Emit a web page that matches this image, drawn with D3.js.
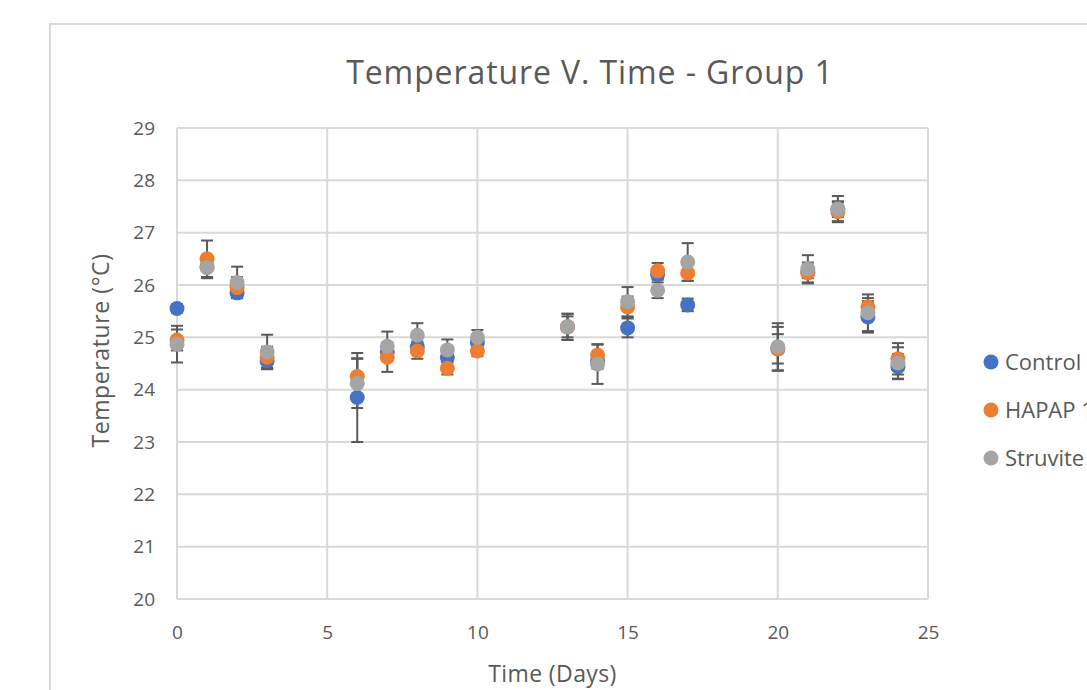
<!DOCTYPE html>
<html>
<head>
<meta charset="utf-8">
<script src="https://cdn.jsdelivr.net/npm/d3@7"></script>
<style>
  html, body { margin: 0; padding: 0; background: #fff; overflow: hidden; }
  svg { display: block; font-family: "Open Sans", "Segoe UI", sans-serif; }
</style>
</head>
<body>
<svg id="chart" width="1087" height="690"></svg>
<script>
const days = [0, 1, 2, 3, 6, 7, 8, 9, 10, 13, 14, 15, 16, 17, 20, 21, 22, 23, 24];
const control = [25.55, 26.35, 25.85, 24.55, 23.85, 24.72, 24.82, 24.62, 24.9, 25.2, 24.55, 25.18, 26.2, 25.62, 24.78, 26.25, 27.45, 25.39, 24.44];
const controlErr = [0.08, 0.2, 0.1, 0.15, 0.85, 0.15, 0.1, 0.1, 0.1, 0.2, 0.15, 0.18, 0.1, 0.12, 0.28, 0.12, 0.15, 0.3, 0.24];
const hapap = [24.95, 26.5, 25.95, 24.62, 24.25, 24.62, 24.74, 24.41, 24.74, 25.2, 24.66, 25.58, 26.27, 26.23, 24.78, 26.23, 27.4, 25.58, 24.59];
const hapapErr = [0.2, 0.35, 0.2, 0.2, 0.35, 0.28, 0.15, 0.12, 0.1, 0.25, 0.2, 0.2, 0.15, 0.15, 0.42, 0.2, 0.18, 0.17, 0.3];
const struvite = [24.87, 26.33, 26.05, 24.72, 24.12, 24.83, 25.04, 24.76, 25.0, 25.2, 24.49, 25.68, 25.9, 26.44, 24.82, 26.31, 27.45, 25.47, 24.51];
const struviteErr = [0.35, 0.2, 0.3, 0.33, 0.47, 0.28, 0.23, 0.2, 0.14, 0.25, 0.38, 0.28, 0.15, 0.36, 0.45, 0.26, 0.25, 0.35, 0.3];
const seriesNames = ["Control", "HAPAP 1", "Struvite"];
const seriesColors = ["#4472C4", "#ED7D31", "#A5A5A5"];
const xTicks = [0, 5, 10, 15, 20, 25];
const yTicks = [20, 21, 22, 23, 24, 25, 26, 27, 28, 29];
const titleText = "Temperature V. Time - Group 1";
const xTitle = "Time (Days)";
const yTitle = "Temperature (°C)";

const series = [
  { name: seriesNames[0], color: seriesColors[0], values: control, errs: controlErr },
  { name: seriesNames[1], color: seriesColors[1], values: hapap, errs: hapapErr },
  { name: seriesNames[2], color: seriesColors[2], values: struvite, errs: struviteErr }
];

const svg = d3.select("#chart");
const pLeft = 177, pRight = 928, pTop = 128, pBottom = 599;
const x = d3.scaleLinear().domain([0, 25]).range([pLeft, pRight]);
const y = d3.scaleLinear().domain([20, 29]).range([pBottom, pTop]);
const textColor = "#595959";
const gridColor = "#d9d9d9";

// chart area border
svg.append("rect")
  .attr("x", 50).attr("y", 24)
  .attr("width", 1100).attr("height", 700)
  .attr("fill", "#fff").attr("stroke", gridColor).attr("stroke-width", 2);

// title
svg.append("text")
  .attr("x", 590).attr("y", 84)
  .attr("text-anchor", "middle")
  .attr("font-size", 32)
  .attr("letter-spacing", 0.9)
  .attr("fill", textColor)
  .text(titleText);

// gridlines
svg.append("g").selectAll("line").data(yTicks).join("line")
  .attr("x1", pLeft).attr("x2", pRight)
  .attr("y1", d => y(d)).attr("y2", d => y(d))
  .attr("stroke", gridColor).attr("stroke-width", 2);
svg.append("g").selectAll("line").data(xTicks).join("line")
  .attr("y1", pTop).attr("y2", pBottom)
  .attr("x1", d => x(d)).attr("x2", d => x(d))
  .attr("stroke", gridColor).attr("stroke-width", 2);

// axes (labels only)
const yAxis = svg.append("g")
  .attr("transform", `translate(${pLeft},0)`)
  .call(d3.axisLeft(y).tickValues(yTicks).tickSize(0).tickPadding(22).tickFormat(d3.format("d")));
yAxis.select(".domain").remove();
yAxis.selectAll("text").attr("font-size", 19).attr("fill", textColor)
  .attr("font-family", "'Open Sans', sans-serif");

const xAxis = svg.append("g")
  .attr("transform", `translate(0,${pBottom})`)
  .call(d3.axisBottom(x).tickValues(xTicks).tickSize(0).tickPadding(27).tickFormat(d3.format("d")));
xAxis.select(".domain").remove();
xAxis.selectAll("text").attr("font-size", 19).attr("fill", textColor)
  .attr("font-family", "'Open Sans', sans-serif");

// axis titles
svg.append("text")
  .attr("x", (pLeft + pRight) / 2).attr("y", 682)
  .attr("text-anchor", "middle")
  .attr("font-size", 23).attr("letter-spacing", 0.4).attr("fill", textColor)
  .text(xTitle);
svg.append("text")
  .attr("transform", `translate(109,${(pTop + pBottom) / 2 - 13}) rotate(-90)`)
  .attr("text-anchor", "middle")
  .attr("font-size", 23).attr("letter-spacing", 0.6).attr("fill", textColor)
  .text(yTitle);

// error bars
const capW = 6;
const errG = svg.append("g").attr("stroke", "#595959").attr("stroke-width", 2);
series.forEach(s => {
  const pts = days.map((d, i) => ({ d, v: s.values[i], e: s.errs[i] }));
  const g = errG.append("g");
  g.selectAll("line.stem").data(pts).join("line").attr("class", "stem")
    .attr("x1", p => x(p.d)).attr("x2", p => x(p.d))
    .attr("y1", p => y(p.v - p.e)).attr("y2", p => y(p.v + p.e));
  g.selectAll("line.capT").data(pts).join("line").attr("class", "capT")
    .attr("x1", p => x(p.d) - capW).attr("x2", p => x(p.d) + capW)
    .attr("y1", p => y(p.v + p.e)).attr("y2", p => y(p.v + p.e));
  g.selectAll("line.capB").data(pts).join("line").attr("class", "capB")
    .attr("x1", p => x(p.d) - capW).attr("x2", p => x(p.d) + capW)
    .attr("y1", p => y(p.v - p.e)).attr("y2", p => y(p.v - p.e));
});

// markers
series.forEach(s => {
  svg.append("g").selectAll("circle").data(days.map((d, i) => ({ d, v: s.values[i] }))).join("circle")
    .attr("cx", p => x(p.d)).attr("cy", p => y(p.v))
    .attr("r", 7.5).attr("fill", s.color);
});

// legend
const legend = svg.append("g");
series.forEach((s, i) => {
  const ly = 362 + i * 48;
  legend.append("circle").attr("cx", 991).attr("cy", ly).attr("r", 7.5).attr("fill", s.color);
  legend.append("text").attr("x", 1005).attr("y", ly + 8)
    .attr("font-size", 22).attr("fill", textColor).text(s.name);
});
</script>
</body>
</html>
